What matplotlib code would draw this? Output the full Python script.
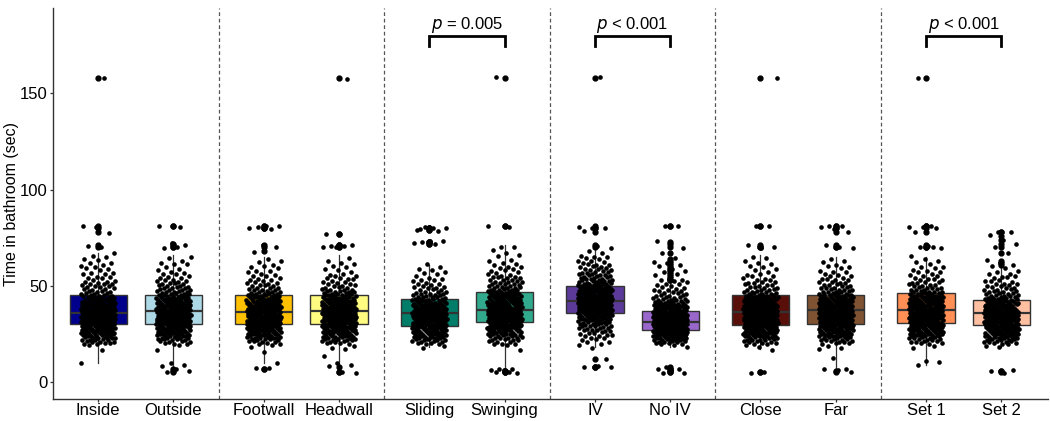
import numpy as np
import matplotlib
matplotlib.use("Agg")
import matplotlib.pyplot as plt

plt.rcParams['font.family'] = ['Liberation Sans', 'DejaVu Sans']

labels = ['Inside', 'Outside', 'Footwall', 'Headwall', 'Sliding', 'Swinging',
          'IV', 'No IV', 'Close', 'Far', 'Set 1', 'Set 2']
colors = ['#00008B', '#ADD8E6', '#FFC000', '#FFFA80', '#017D6A', '#31A98D',
          '#5C3A99', '#9966CC', '#580F0A', '#7F5232', '#FF8F55', '#FFBFA1']

# box statistics (sec)
q1 = [30.0, 30.0, 30.0, 30.0, 29.3, 31.0, 36.0, 27.0, 29.7, 30.4, 30.6, 29.5]
med = [36.0, 37.0, 36.5, 37.0, 36.0, 37.3, 42.0, 31.0, 36.3, 37.2, 37.3, 35.8]
q3 = [45.0, 45.0, 45.0, 45.0, 43.2, 47.0, 50.0, 37.0, 45.0, 45.3, 46.2, 42.9]
whislo = [10, 8, 10, 9, 18, 7, 18, 18, 17, 7, 9, 18]
whishi = [67, 66, 65, 66, 61, 71, 69, 52, 66, 65, 65, 60]

# counts of observations per second, 5..81 s
secs = np.arange(5, 82)
counts = {
    'Inside': [0, 0, 0, 0, 0,
               1, 0, 0, 0, 0, 0, 0, 1, 0, 1,
               4, 4, 5, 6, 7, 8, 9, 9, 10, 10,
               11, 12, 12, 13, 12, 13, 12, 11, 10, 10,
               8, 7, 7, 6, 6, 5, 4, 4, 3, 3,
               3, 3, 3, 2, 2, 2, 2, 2, 1, 2,
               2, 1, 2, 1, 1, 1, 1, 1, 0, 0,
               1, 1, 0, 0, 0, 0, 0, 0, 1, 0,
               1, 1],
    'Outside': [1, 1, 1, 1, 1,
                1, 0, 0, 0, 0, 0, 0, 1, 0, 1,
                3, 4, 5, 5, 6, 7, 8, 9, 9, 10,
                10, 11, 12, 12, 13, 12, 12, 11, 11, 10,
                9, 9, 8, 7, 7, 6, 5, 5, 4, 4,
                4, 3, 3, 3, 2, 2, 2, 2, 1, 1,
                1, 2, 1, 1, 1, 1, 0, 0, 0, 0,
                2, 1, 1, 0, 0, 0, 0, 0, 0, 0,
                0, 2],
    'Footwall': [0, 0, 2, 0, 0,
                 1, 0, 0, 0, 0, 0, 1, 0, 1, 1,
                 3, 4, 5, 6, 6, 7, 8, 9, 10, 10,
                 11, 12, 13, 12, 13, 12, 11, 11, 10, 10,
                 9, 8, 8, 7, 6, 6, 5, 4, 4, 3,
                 3, 3, 3, 2, 2, 2, 2, 1, 2, 1,
                 2, 1, 1, 1, 1, 0, 0, 0, 1, 0,
                 1, 1, 0, 0, 0, 0, 0, 0, 0, 0,
                 3, 2],
    'Headwall': [2, 0, 0, 1, 1,
                 1, 0, 0, 1, 0, 0, 0, 1, 1, 1,
                 3, 4, 5, 6, 7, 7, 8, 9, 9, 10,
                 10, 11, 12, 12, 12, 12, 12, 11, 11, 10,
                 9, 9, 8, 7, 7, 6, 5, 5, 4, 3,
                 3, 3, 2, 2, 3, 2, 2, 1, 1, 1,
                 2, 1, 1, 1, 0, 1, 0, 0, 0, 0,
                 2, 3, 0, 0, 0, 0, 0, 2, 0, 0,
                 0, 0],
    'Sliding': [0, 0, 0, 0, 0,
                0, 0, 0, 0, 0, 0, 0, 0, 1, 1,
                4, 4, 5, 6, 7, 8, 8, 9, 10, 10,
                11, 12, 12, 12, 12, 12, 11, 10, 10, 9,
                8, 7, 6, 6, 5, 4, 4, 3, 3, 3,
                3, 2, 2, 2, 2, 1, 1, 2, 1, 1,
                1, 1, 0, 0, 0, 0, 0, 0, 0, 0,
                0, 0, 2, 3, 0, 0, 0, 0, 0, 2,
                4, 0],
    'Swinging': [3, 2, 2, 0, 0,
                 0, 0, 0, 0, 0, 0, 0, 1, 0, 1,
                 3, 3, 4, 5, 5, 6, 7, 8, 9, 9,
                 10, 10, 11, 11, 11, 11, 11, 10, 10, 10,
                 9, 9, 8, 8, 8, 7, 7, 6, 5, 5,
                 4, 4, 4, 3, 3, 3, 2, 2, 2, 2,
                 2, 2, 1, 1, 1, 1, 1, 1, 0, 1,
                 2, 0, 0, 0, 0, 0, 0, 0, 0, 0,
                 0, 2],
    'IV': [0, 0, 0, 3, 0,
           0, 0, 1, 0, 0, 0, 0, 0, 1, 1,
           1, 2, 2, 2, 3, 3, 3, 4, 4, 5,
           5, 6, 6, 7, 8, 9, 10, 11, 11, 12,
           12, 12, 12, 11, 11, 10, 10, 9, 9, 8,
           7, 6, 6, 5, 5, 4, 4, 4, 3, 3,
           3, 3, 2, 2, 2, 2, 1, 1, 1, 0,
           1, 1, 0, 0, 0, 0, 0, 0, 1, 0,
           2, 1],
    'No IV': [2, 1, 2, 1, 0,
              0, 0, 0, 0, 0, 0, 0, 0, 1, 1,
              4, 5, 7, 8, 9, 11, 13, 15, 16, 17,
              18, 17, 17, 16, 15, 13, 11, 10, 9, 8,
              7, 6, 6, 5, 4, 4, 3, 3, 3, 2,
              2, 2, 2, 2, 1, 1, 1, 1, 1, 1,
              1, 1, 1, 1, 1, 0, 0, 1, 0, 0,
              1, 0, 1, 1, 0, 0, 0, 0, 0, 0,
              0, 2],
    'Close': [2, 0, 0, 0, 0,
              0, 0, 0, 0, 0, 0, 0, 1, 1, 1,
              4, 4, 5, 6, 7, 8, 9, 9, 10, 10,
              11, 12, 12, 12, 13, 12, 12, 11, 10, 10,
              9, 9, 8, 8, 7, 6, 5, 4, 4, 3,
              3, 3, 3, 2, 2, 2, 2, 1, 1, 1,
              2, 1, 1, 1, 1, 1, 0, 0, 0, 0,
              2, 1, 0, 0, 0, 0, 0, 0, 0, 0,
              0, 2],
    'Far': [1, 1, 2, 0, 0,
            0, 0, 1, 0, 0, 0, 0, 1, 1, 1,
            3, 4, 5, 5, 6, 7, 8, 9, 10, 10,
            11, 11, 12, 12, 12, 12, 11, 11, 10, 10,
            9, 9, 8, 8, 7, 6, 5, 5, 4, 4,
            3, 3, 3, 3, 2, 2, 2, 2, 1, 1,
            2, 1, 1, 1, 1, 0, 0, 0, 0, 0,
            2, 1, 0, 0, 0, 0, 0, 0, 1, 0,
            2, 2],
    'Set 1': [0, 0, 0, 0, 1,
              1, 1, 0, 0, 0, 0, 0, 0, 1, 1,
              3, 4, 4, 5, 6, 7, 8, 9, 9, 10,
              10, 11, 11, 12, 12, 12, 11, 11, 10, 10,
              10, 9, 9, 8, 7, 7, 6, 5, 4, 4,
              3, 3, 3, 3, 2, 2, 2, 2, 2, 1,
              2, 1, 1, 1, 1, 1, 0, 0, 0, 0,
              3, 1, 0, 0, 0, 0, 0, 0, 1, 0,
              1, 3],
    'Set 2': [1, 2, 0, 0, 0,
              0, 0, 0, 0, 0, 0, 0, 0, 1, 1,
              4, 5, 5, 6, 7, 8, 9, 10, 10, 11,
              12, 12, 13, 13, 13, 12, 12, 11, 10, 9,
              8, 7, 7, 6, 5, 5, 4, 4, 3, 3,
              3, 3, 2, 2, 2, 2, 2, 1, 1, 1,
              1, 1, 1, 1, 0, 0, 0, 1, 0, 0,
              1, 0, 1, 0, 1, 0, 1, 0, 2, 0,
              0, 0],
}
# one extreme observation at 158 s in some groups
extreme = [1, 0, 0, 1, 0, 1, 1, 0, 1, 0, 1, 0]

# significance brackets: (left group, right group, label)
brackets = [('Sliding', 'Swinging', r'$\it{p}$ = 0.005'),
            ('IV', 'No IV', r'$\it{p}$ < 0.001'),
            ('Set 1', 'Set 2', r'$\it{p}$ < 0.001')]

# x layout: pairs one unit apart, 1.2 between pairs
pos = np.array([1 + i + 0.2 * (i // 2) for i in range(len(labels))])

fig = plt.figure(figsize=(10.5, 4.21), dpi=100)
ax = fig.add_axes([53 / 1050, 22 / 421, 995 / 1050, 391 / 421])

phi = (np.sqrt(5) - 1) / 2
for i, lab in enumerate(labels):
    vals = np.repeat(secs, counts[lab]).astype(float)
    vals = np.concatenate([vals, np.full(extreme[i], 158.0)])
    fl = vals[(vals < whislo[i]) | (vals > whishi[i])]
    st = dict(q1=q1[i], med=med[i], q3=q3[i], whislo=whislo[i],
              whishi=whishi[i], fliers=fl, label=lab)
    ax.bxp([st], positions=[pos[i]], widths=0.76, patch_artist=True,
           showcaps=False,
           boxprops=dict(facecolor=colors[i], edgecolor='#333333', lw=1.0),
           medianprops=dict(color='#333333', lw=1.6),
           whiskerprops=dict(color='#333333', lw=0.9),
           flierprops=dict(marker='o', markersize=3.5, markerfacecolor='black',
                           markeredgecolor='black'),
           zorder=2)
    # deterministic jitter
    k = np.arange(len(vals)) + 7 * i
    dx = ((k * phi) % 1 - 0.5) * 0.46
    dy = ((k * 0.7548776662 + 0.3) % 1 - 0.5) * 0.8
    ax.scatter(pos[i] + dx, vals + dy, s=11, color='black', lw=0, zorder=3)

for j in range(0, len(labels) - 2, 2):
    ax.axvline((pos[j + 1] + pos[j + 2]) / 2, color='#555555', ls=(0, (3, 2.2)),
               lw=0.9, zorder=1)

for a, b, txt in brackets:
    xa, xb = pos[labels.index(a)], pos[labels.index(b)]
    ax.plot([xa, xa, xb, xb], [174.5, 180, 180, 174.5], color='black', lw=2,
            solid_joinstyle='miter', zorder=4)
    ax.text((xa + xb) / 2, 183.5, txt, ha='center', va='baseline', fontsize=12)

ax.set_xlim(0.4, 13.62)
ax.set_ylim(-8.8, 194.4)
ax.set_xticks(pos)
ax.set_xticklabels(labels)
ax.set_yticks([0, 50, 100, 150])
ax.set_ylabel('Time in bathroom (sec)', fontsize=11.5)
ax.yaxis.set_label_coords(-0.034, 0.5)
ax.tick_params(labelsize=12, length=2.5, width=0.9, colors='#333333',
               labelcolor='black')
ax.tick_params(axis='x', pad=0.5)
ax.tick_params(axis='y', pad=1.5)
for s in ['top', 'right']:
    ax.spines[s].set_visible(False)
for s in ['left', 'bottom']:
    ax.spines[s].set_color('#333333')
    ax.spines[s].set_linewidth(1.0)

fig.savefig('out.png', dpi=100)
